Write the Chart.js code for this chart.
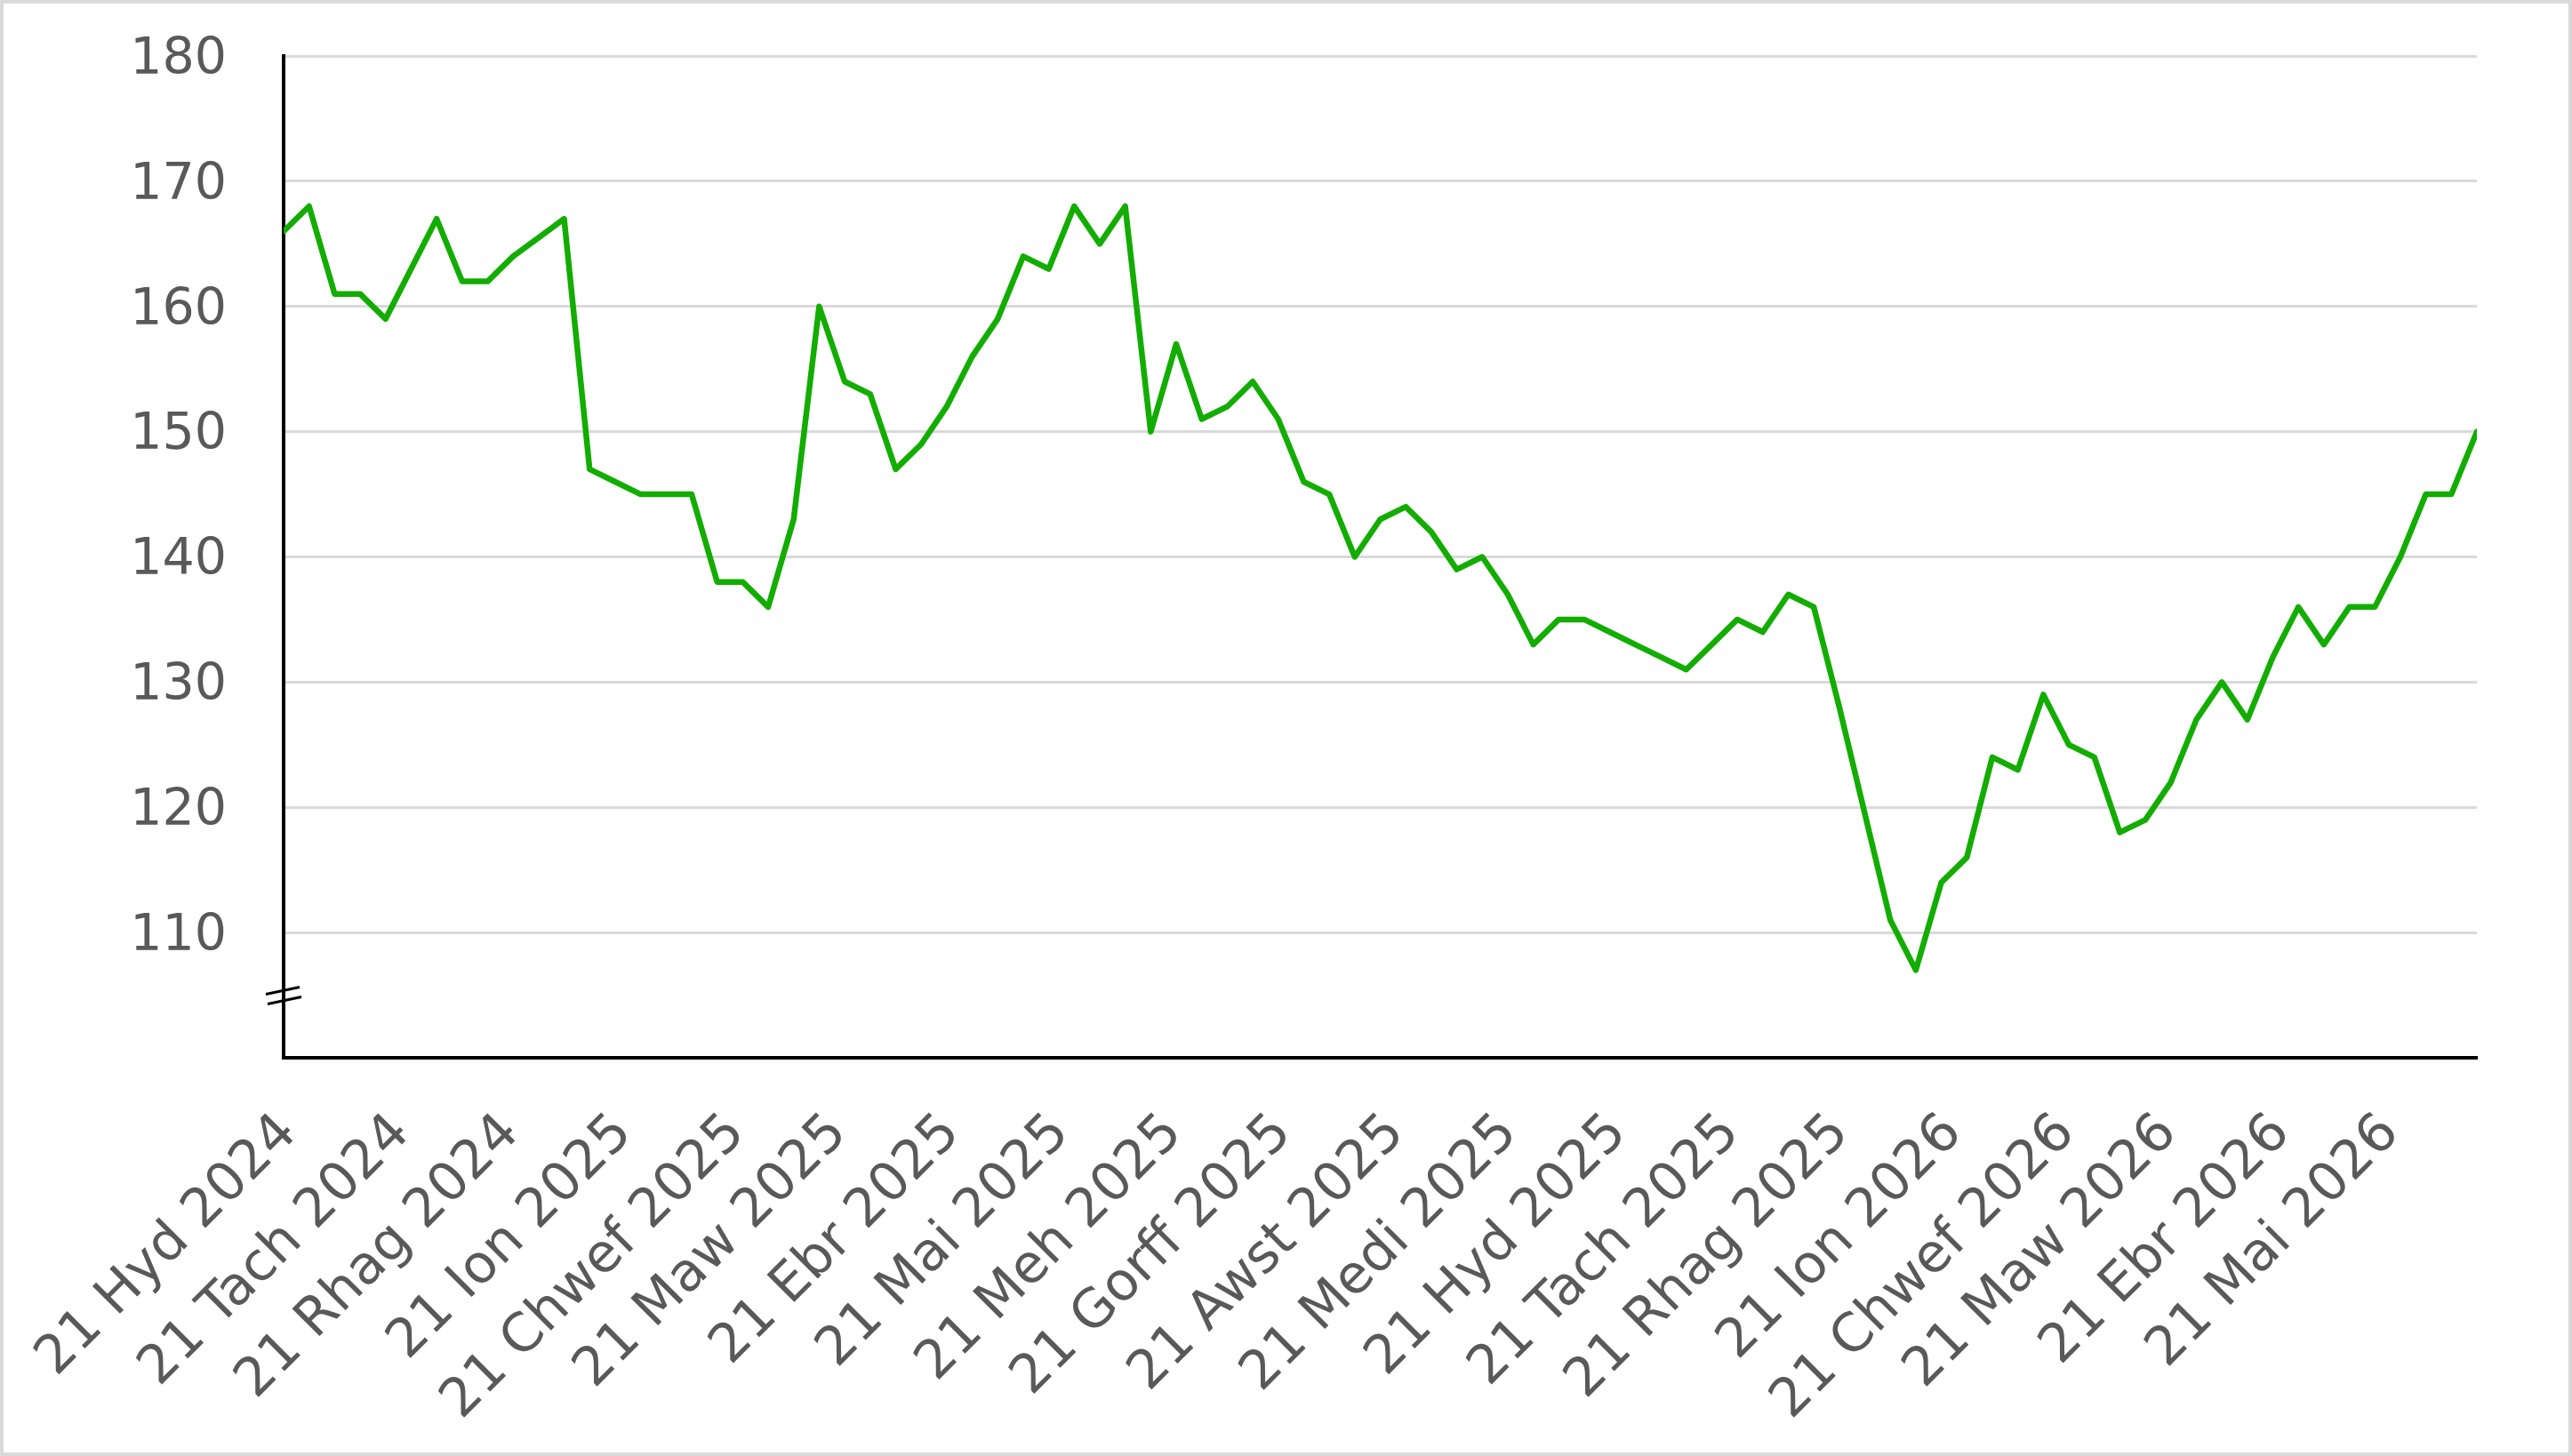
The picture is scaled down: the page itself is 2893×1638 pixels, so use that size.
<!DOCTYPE html>
<html>
<head>
<meta charset="utf-8">
<script src="https://cdn.jsdelivr.net/npm/chart.js@4/dist/chart.umd.min.js"></script>
<style>
  html, body { margin: 0; padding: 0; background: #fff; }
  canvas { display: block; }
</style>
</head>
<body>
<canvas id="grafico" width="2893" height="1638"></canvas>
<script>
// Primeira semana da série (dados semanais)
const dataInicio = '2024-10-21';

// Valores semanais
const valores = [
  166, 168, 161, 161, 159, 163, 167, 162, 162, 164,
  165.5, 167, 147, 146, 145, 145, 145, 138, 138, 136,
  143, 160, 154, 153, 147, 149, 152, 156, 159, 164,
  163, 168, 165, 168, 150, 157, 151, 152, 154, 151,
  146, 145, 140, 143, 144, 142, 139, 140, 137, 133,
  135, 135, 134, 133, 132, 131, 133, 135, 134, 137,
  136, 128, 119.5, 111, 107, 114, 116, 124, 123, 129,
  125, 124, 118, 119, 122, 127, 130, 127, 132, 136,
  133, 136, 136, 140, 145, 145, 150
];

// Datas dos rótulos do eixo X e os textos (em galês)
const datasRotulos = [
  '2024-10-21', '2024-11-21', '2024-12-21', '2025-01-21', '2025-02-21',
  '2025-03-21', '2025-04-21', '2025-05-21', '2025-06-21', '2025-07-21',
  '2025-08-21', '2025-09-21', '2025-10-21', '2025-11-21', '2025-12-21',
  '2026-01-21', '2026-02-21', '2026-03-21', '2026-04-21', '2026-05-21'
];
const rotulos = [
  '21 Hyd 2024', '21 Tach 2024', '21 Rhag 2024', '21 Ion 2025', '21 Chwef 2025',
  '21 Maw 2025', '21 Ebr 2025', '21 Mai 2025', '21 Meh 2025', '21 Gorff 2025',
  '21 Awst 2025', '21 Medi 2025', '21 Hyd 2025', '21 Tach 2025', '21 Rhag 2025',
  '21 Ion 2026', '21 Chwef 2026', '21 Maw 2026', '21 Ebr 2026', '21 Mai 2026'
];

// Marcas do eixo Y
const yMin = 100, yMax = 180, yPasso = 10;

// dias desde o início
function dias(d) {
  return Math.round((Date.parse(d + 'T00:00:00Z') - Date.parse(dataInicio + 'T00:00:00Z')) / 86400000);
}

const pontos = valores.map((v, i) => ({ x: i * 7, y: v }));
const diasRotulos = datasRotulos.map(dias);

const corTexto = '#595959';
const fonte = 'DejaVu Sans';

// Desenha a moldura e o sinal de quebra no eixo Y
const extras = {
  id: 'extras',
  afterDraw(chart) {
    const ctx = chart.ctx;
    const y = chart.scales.y;
    const x0 = chart.chartArea.left;
    const yq = y.getPixelForValue(105);
    ctx.save();
    ctx.strokeStyle = '#000';
    ctx.lineWidth = 3;
    ctx.beginPath();
    ctx.moveTo(x0 - 20, yq - 1);
    ctx.lineTo(x0 + 18, yq - 9);
    ctx.moveTo(x0 - 18, yq + 10);
    ctx.lineTo(x0 + 20, yq + 2);
    ctx.stroke();
    ctx.strokeStyle = '#d9d9d9';
    ctx.lineWidth = 4;
    ctx.strokeRect(2, 2, chart.width - 4, chart.height - 4);
    ctx.restore();
  }
};

const ctx = document.getElementById('grafico').getContext('2d');
new Chart(ctx, {
  type: 'line',
  data: {
    datasets: [{
      data: pontos,
      borderColor: '#12ad00',
      borderWidth: 6.5,
      pointRadius: 0,
      borderJoinStyle: 'round',
      borderCapStyle: 'round',
      tension: 0
    }]
  },
  options: {
    responsive: false,
    animation: false,
    layout: { padding: { top: 63, right: 107, left: 0, bottom: 0 } },
    plugins: {
      legend: { display: false },
      tooltip: { enabled: false }
    },
    scales: {
      x: {
        type: 'linear',
        min: 0,
        max: (valores.length - 1) * 7,
        grid: { display: false, drawTicks: false },
        border: { color: '#000', width: 4 },
        afterBuildTicks: s => { s.ticks = diasRotulos.map(v => ({ value: v })); },
        afterFit: s => { s.height = 448; s.paddingLeft = 0; s.paddingRight = 0; },
        ticks: {
          autoSkip: false,
          minRotation: 45,
          maxRotation: 45,
          padding: 50,
          labelOffset: 6,
          color: corTexto,
          font: { family: fonte, size: 60 },
          callback: (v, i) => rotulos[i]
        }
      },
      y: {
        min: yMin,
        max: yMax,
        grid: {
          drawTicks: false,
          lineWidth: 3,
          color: c => (c.tick && c.tick.value === yMin) ? 'rgba(0,0,0,0)' : '#d9d9d9'
        },
        border: { color: '#000', width: 4 },
        afterFit: s => { s.width = 319; s.paddingTop = 0; s.paddingBottom = 0; },
        ticks: {
          stepSize: yPasso,
          padding: 64,
          labelOffset: 5,
          color: corTexto,
          font: { family: fonte, size: 57 },
          callback: v => v === yMin ? '' : v
        }
      }
    }
  },
  plugins: [extras]
});
</script>
</body>
</html>
